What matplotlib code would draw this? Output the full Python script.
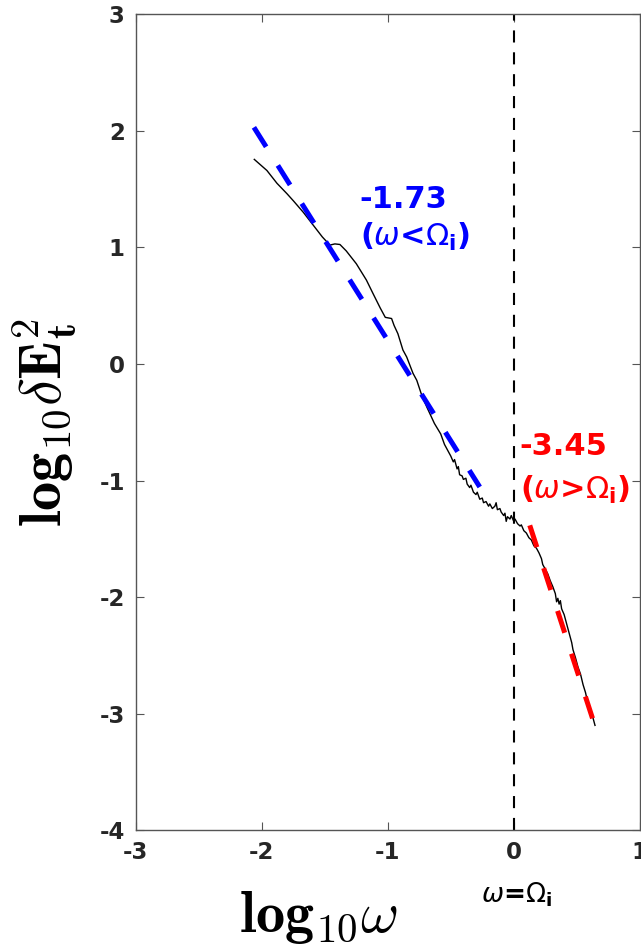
import matplotlib
matplotlib.use('Agg')
import matplotlib.pyplot as plt

plt.rcParams['axes.unicode_minus'] = False
plt.rcParams['font.family'] = ['DejaVu Sans']

# spectrum curve
curve_x = [-2.06, -1.96, -1.88, -1.80, -1.75, -1.67, -1.57, -1.52, -1.46, -1.42,
           -1.38, -1.33, -1.25, -1.17, -1.12, -1.06, -1.02, -0.97, -0.95, -0.92,
           -0.88, -0.85, -0.80, -0.77, -0.73, -0.69, -0.66, -0.63, -0.58, -0.55,
           -0.52, -0.50, -0.48, -0.47, -0.45, -0.44, -0.43, -0.41, -0.40, -0.38,
           -0.37, -0.35, -0.34, -0.32, -0.30, -0.29, -0.27, -0.25, -0.24, -0.22,
           -0.20, -0.19, -0.17, -0.15, -0.14, -0.13, -0.11, -0.10, -0.08, -0.07,
           -0.06, -0.05, -0.03, -0.02, 0.00, 0.01, 0.03, 0.05, 0.06, 0.08,
           0.10, 0.12, 0.14, 0.16, 0.18, 0.20, 0.22, 0.23, 0.25, 0.27,
           0.29, 0.31, 0.33, 0.34, 0.35, 0.36, 0.37, 0.38, 0.40, 0.42,
           0.44, 0.46, 0.47, 0.49, 0.51, 0.53, 0.55, 0.57, 0.58, 0.60,
           0.62, 0.645]
curve_y = [1.755, 1.66, 1.55, 1.46, 1.40, 1.30, 1.16, 1.09, 1.02, 1.03,
           1.025, 0.97, 0.86, 0.72, 0.61, 0.48, 0.40, 0.39, 0.33, 0.26,
           0.12, 0.06, -0.08, -0.14, -0.27, -0.37, -0.44, -0.51, -0.60, -0.69,
           -0.75, -0.79, -0.84, -0.82, -0.90, -0.88, -0.95, -0.96, -0.99, -0.98,
           -1.03, -1.06, -1.04, -1.10, -1.12, -1.10, -1.16, -1.15, -1.19, -1.18,
           -1.22, -1.20, -1.24, -1.22, -1.19, -1.25, -1.24, -1.27, -1.30, -1.28,
           -1.35, -1.31, -1.33, -1.30, -1.35, -1.33, -1.37, -1.39, -1.38, -1.43,
           -1.45, -1.49, -1.51, -1.56, -1.58, -1.62, -1.67, -1.72, -1.76, -1.80,
           -1.86, -1.91, -1.97, -2.04, -2.01, -2.06, -2.03, -2.10, -2.15, -2.23,
           -2.31, -2.39, -2.45, -2.52, -2.60, -2.66, -2.75, -2.82, -2.87, -2.93,
           -3.00, -3.10]

# power-law fits
low_x = [-2.063, -0.27]
low_y = [2.03, -1.055]
high_x = [0.127, 0.656]
high_y = [-1.384, -3.142]

xticks = [-3, -2, -1, 0, 1]
yticks = [-4, -3, -2, -1, 0, 1, 2, 3]

fig = plt.figure(figsize=(6.41, 9.5), dpi=100)
ax = fig.add_axes([0.212, 0.126, 0.786, 0.859])

ax.axvline(0, color='black', lw=1.5, dashes=(5.8, 4.7))
ax.plot(curve_x, curve_y, color='black', lw=1.0)
ax.plot(low_x, low_y, color='#0000ff', lw=3.6, dashes=(4.6, 4.4), solid_capstyle='butt')
ax.plot(high_x, high_y, color='#ff0000', lw=3.6, dashes=(4.6, 4.4), solid_capstyle='butt')

ax.set_xlim(-3, 1)
ax.set_ylim(-4, 3)
ax.set_xticks(xticks)
ax.set_xticklabels([str(t) for t in xticks])
ax.set_yticks(yticks)
ax.set_yticklabels([str(t) for t in yticks])
ax.tick_params(direction='in', length=6, width=0.8, top=True, right=True,
               labelsize=16.5, colors='#555555', labelcolor='#262626', pad=8)
for lab in ax.get_xticklabels() + ax.get_yticklabels():
    lab.set_fontweight('bold')
for sp in ax.spines.values():
    sp.set_color('#555555')
    sp.set_linewidth(1.0)

ax.set_xlabel(r'$\mathbf{log_{10}}\omega$', fontsize=42, math_fontfamily='cm')
ax.xaxis.set_label_coords(0.363, -0.072)
ax.set_ylabel(r'$\mathbf{log_{10}}\delta\mathbf{E}_\mathbf{t}^\mathbf{2}$', fontsize=42,
              math_fontfamily='cm')
ax.yaxis.set_label_coords(-0.113, 0.5)

ax.text(-1.222, 1.336, '-1.73', color='#0000ff', fontsize=22, fontweight='bold',
        ha='left', va='baseline')
ax.text(-1.222, 1.09, r'($\omega$<$\Omega_\mathbf{i}$)', color='#0000ff', fontsize=22,
        fontweight='bold', ha='left', va='center', math_fontfamily='dejavusans')
ax.text(0.048, -0.783, '-3.45', color='#ff0000', fontsize=22, fontweight='bold',
        ha='left', va='baseline')
ax.text(0.05, -1.083, r'($\omega$>$\Omega_\mathbf{i}$)', color='#ff0000', fontsize=22,
        fontweight='bold', ha='left', va='center', math_fontfamily='dejavusans')

ax.text(0.02, -4.62, r'$\omega$=$\Omega_\mathbf{i}$', color='black', fontsize=19,
        fontweight='bold', ha='center', va='baseline', math_fontfamily='dejavusans',
        clip_on=False)

fig.savefig('out.png', dpi=100)
